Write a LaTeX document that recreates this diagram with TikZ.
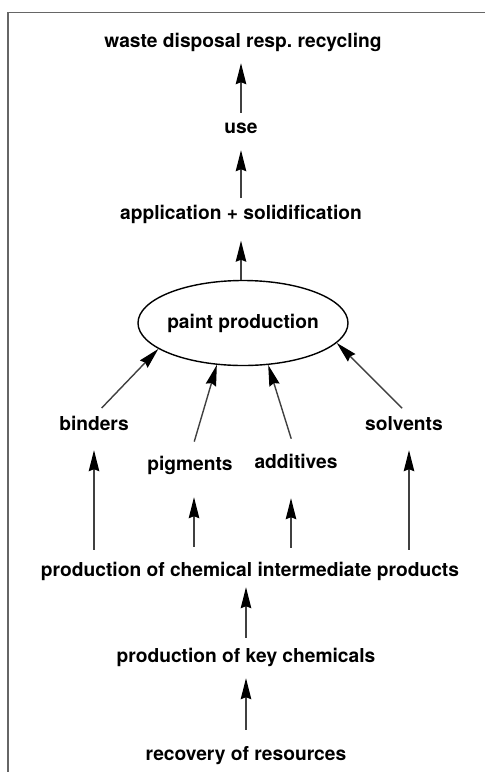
\documentclass[tikz,border=0pt]{standalone}
\usepackage{fontspec}
\setmainfont{TeX Gyre Heros}
\usetikzlibrary{arrows.meta,shapes.geometric}
\tikzset{
	lbl/.style={font=\bfseries\fontsize{19.2}{22}\selectfont, inner sep=0pt, text height=13.8pt, text depth=4pt, anchor=base},
	arr/.style={draw=black!75, line width=1.4pt, -{Stealth[length=21pt, width=10.5pt, inset=2pt, black]}}
}

\begin{document}
\begin{tikzpicture}[x=1pt, y=-1pt]
			%%%%% START %%%%%
			\useasboundingbox (0, 0) rectangle (485, 772);
			
			\draw[line width=1.5pt, color=black!60] (8, 772) -- (8, 12.5) -- (485, 12.5);
			
			\node[lbl] (waste) at (243, 47) {waste disposal resp.\ recycling};
			\node[lbl] (use) at (241, 133) {use};
			\node[lbl] (appl) at (241, 219.5) {application + solidification};
			
			\node[ellipse, draw, line width=1.4pt, minimum width=210pt, minimum height=85pt, inner sep=0pt, font=\bfseries\fontsize{19.2}{22}\selectfont] (paint) at (243, 323) {\makebox[140pt]{paint production}};
			
			\node[lbl] (bind) at (94, 430) {binders};
			\node[lbl] (pigm) at (190, 470) {pigments};
			\node[lbl] (addi) at (296, 468) {additives};
			\node[lbl] (solv) at (404, 430) {solvents};
			
			\node[lbl] (chem) at (250, 576) {production of chemical intermediate products};
			\node[lbl] (key) at (246, 662) {production of key chemicals};
			\node[lbl] (recov) at (246, 760) {recovery of resources};
			
			% main line upwards
			\draw[arr, shorten <=6.5pt, shorten >=12pt] (use.north) -- (use.north |- waste.south);
			\draw[arr, shorten <=7.5pt, shorten >=13pt] (appl.north -| use.north) -- (use.south);
			\draw[arr, shorten >=17pt] (paint.north -| appl.north) -- (appl.south -| use.north);
			\draw[arr, shorten <=10.5pt, shorten >=7pt] (key.north) -- (key.north |- chem.south);
			\draw[arr, shorten <=16.5pt, shorten >=12pt] (recov.north) -- (key.south);
			
			% raw materials into the paint
			\draw[arr, shorten <=11pt] (bind.north) -- (paint.197.8);
			\draw[arr, shorten <=15pt] (pigm.north) -- (paint.238);
			\draw[arr, shorten <=16pt] (addi.north) -- (paint.301.5);
			\draw[arr, shorten <=11pt] ([xshift=6pt]solv.north) -- (paint.348);
			
			% from the intermediates
			\draw[arr, shorten <=12.5pt, shorten >=16pt] (chem.north -| bind.north) -- (bind.south);
			\draw[arr, shorten <=15.5pt, shorten >=23pt] (chem.north -| 194, 0) -- ([xshift=4pt]pigm.south);
			\draw[arr, shorten <=14.5pt, shorten >=26pt] (chem.north -| 291, 0) -- ([xshift=-5pt]addi.south);
			\draw[arr, shorten <=12.5pt, shorten >=16pt] (chem.north -| 409, 0) -- ([xshift=5pt]solv.south);
			
			%%%%% END %%%%%
\end{tikzpicture}
\end{document}
